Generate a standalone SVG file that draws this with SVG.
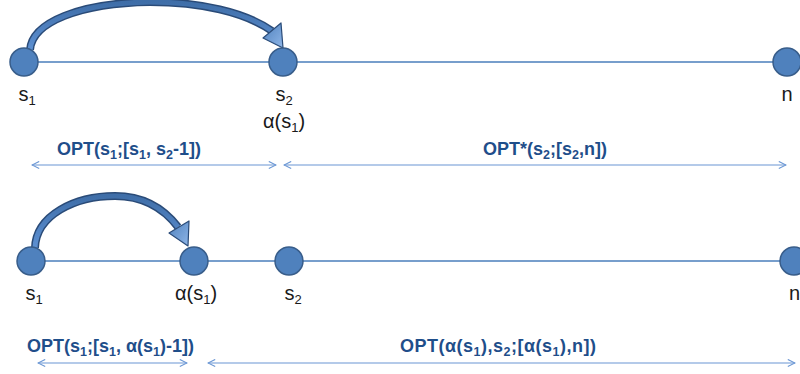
<svg xmlns="http://www.w3.org/2000/svg" width="800" height="374" viewBox="0 0 800 374">
<style>
.node{fill:#4f81bd;stroke:#385d8a;stroke-width:1.5}
.axis{stroke:#4a7ebb;stroke-width:1.3;fill:none}
.span{stroke:#6a96d4;stroke-width:1.2;fill:none;marker-start:url(#open);marker-end:url(#open)}
.arcOut{fill:none;stroke:#2a4b78;stroke-width:8;stroke-linecap:butt}
.arcIn{fill:none;stroke:url(#arcGrad);stroke-width:5;stroke-linecap:butt}
.head{fill:url(#headGrad);stroke:#2a4b78;stroke-width:1.2;stroke-linejoin:round}
.lbl{font-family:"Liberation Sans",Arial,sans-serif;font-size:20px;fill:#1a1a1a}
.opt{font-family:"Liberation Sans",Arial,sans-serif;font-size:18px;font-weight:bold;fill:#1f4e8a}
.sub{font-size:12.5px}
</style>
<defs>
<marker id="open" viewBox="0 0 10 10" refX="9" refY="5" markerWidth="9" markerHeight="9" markerUnits="userSpaceOnUse" orient="auto-start-reverse">
<path d="M1 1 L9 5 L1 9" fill="none" stroke="#6a96d4" stroke-width="1.2"/>
</marker>
<linearGradient id="arcGrad" x1="0" y1="0" x2="0" y2="1">
<stop offset="0" stop-color="#3f6ea8"/>
<stop offset="1" stop-color="#5d90d2"/>
</linearGradient>
<linearGradient id="headGrad" x1="0" y1="0" x2="1" y2="1">
<stop offset="0" stop-color="#4f81bd"/>
<stop offset="1" stop-color="#8fb6e8"/>
</linearGradient>
</defs>

<g id="connectors">
<line class="axis" x1="24" y1="62" x2="787" y2="62"/>
<line class="axis" x1="31" y1="261" x2="800" y2="261"/>
<g id="jump-top">
<path class="arcOut" d="M30 50 C32 22 80 3 150 2 C200 2 245 12 272 31"/>
<path class="arcIn" d="M30 50 C32 22 80 3 150 2 C200 2 245 12 272 31"/>
<polygon class="head" points="263,38 281,23 283,48"/>
</g>
<g id="jump-bottom">
<path class="arcOut" d="M35 248 C36 215 75 196 115 196 C145 196 165 210 178 227"/>
<path class="arcIn" d="M35 248 C36 215 75 196 115 196 C145 196 165 210 178 227"/>
<polygon class="head" points="169,233 189,221 188,246"/>
</g>
<line class="span" x1="32" y1="165" x2="276" y2="165"/>
<line class="span" x1="284" y1="165" x2="786" y2="165"/>
<line class="span" x1="38" y1="363" x2="187" y2="363"/>
<line class="span" x1="208" y1="363" x2="795" y2="363"/>
</g>

<g id="top-s1">
<circle class="node" cx="24" cy="62" r="14"/>
<text class="lbl" x="27" y="101" text-anchor="middle">s<tspan font-size="13" dy="4">1</tspan></text>
</g>
<g id="top-s2">
<circle class="node" cx="283" cy="62" r="14"/>
<text class="lbl" x="284" y="101" text-anchor="middle">s<tspan font-size="13" dy="4">2</tspan></text>
<text class="lbl" x="284" y="128" text-anchor="middle">α(s<tspan font-size="13" dy="4">1</tspan><tspan dy="-4">)</tspan></text>
</g>
<g id="top-n">
<circle class="node" cx="787" cy="62" r="14"/>
<text class="lbl" x="787" y="101" text-anchor="middle">n</text>
</g>

<g id="bot-s1">
<circle class="node" cx="31" cy="261" r="14"/>
<text class="lbl" x="34" y="300" text-anchor="middle">s<tspan font-size="13" dy="4">1</tspan></text>
</g>
<g id="bot-alpha">
<circle class="node" cx="194" cy="261" r="14"/>
<text class="lbl" x="196" y="300" text-anchor="middle">α(s<tspan font-size="13" dy="4">1</tspan><tspan dy="-4">)</tspan></text>
</g>
<g id="bot-s2">
<circle class="node" cx="289" cy="261" r="14"/>
<text class="lbl" x="293" y="300" text-anchor="middle">s<tspan font-size="13" dy="4">2</tspan></text>
</g>
<g id="bot-n">
<circle class="node" cx="794" cy="261" r="14"/>
<text class="lbl" x="789" y="300">n</text>
</g>

<g id="labels">
<text class="opt" x="57" y="155">OPT(s<tspan class="sub" dy="4">1</tspan><tspan dy="-4">;[s</tspan><tspan class="sub" dy="4">1</tspan><tspan dy="-4">, s</tspan><tspan class="sub" dy="4">2</tspan><tspan dy="-4">-1])</tspan></text>
<text class="opt" x="483" y="155">OPT*(s<tspan class="sub" dy="4">2</tspan><tspan dy="-4">;[s</tspan><tspan class="sub" dy="4">2</tspan><tspan dy="-4">,n])</tspan></text>
<text class="opt" x="27" y="352">OPT(s<tspan class="sub" dy="4">1</tspan><tspan dy="-4">;[s</tspan><tspan class="sub" dy="4">1</tspan><tspan dy="-4">, α(s</tspan><tspan class="sub" dy="4">1</tspan><tspan dy="-4">)-1])</tspan></text>
<text class="opt" x="400" y="352" letter-spacing="0.5">OPT(α(s<tspan class="sub" dy="4">1</tspan><tspan dy="-4">),s</tspan><tspan class="sub" dy="4">2</tspan><tspan dy="-4">;[α(s</tspan><tspan class="sub" dy="4">1</tspan><tspan dy="-4">),n])</tspan></text>
</g>
</svg>
